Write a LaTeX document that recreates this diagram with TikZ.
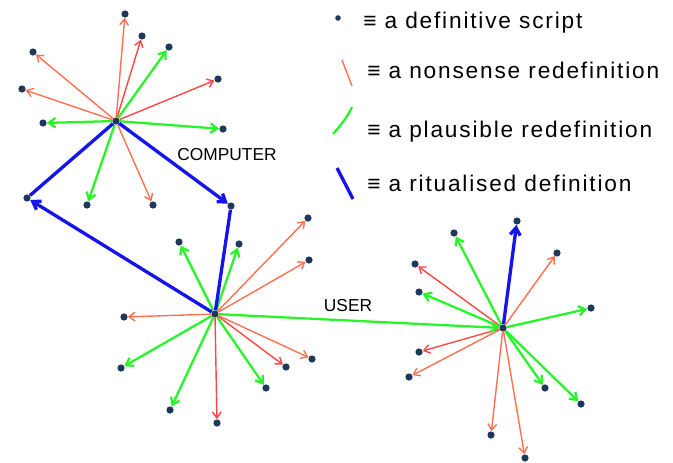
\documentclass[tikz,border=0pt]{standalone}
\usepackage{fontspec}
\setmainfont{Liberation Sans}
\newfontfamily\legfont[LetterSpace=8]{Liberation Sans}
\usetikzlibrary{arrows.meta}
\definecolor{dotc}{RGB}{30,55,90}
\definecolor{orangec}{RGB}{255,112,80}
\definecolor{redc}{RGB}{255,70,70}
\definecolor{greenc}{RGB}{40,245,40}
\definecolor{bluec}{RGB}{20,20,235}
\tikzset{
  dot/.style={circle,fill=dotc,draw=none,inner sep=0pt,minimum size=5.4pt},
  tipx/.style={-{Straight Barb[length=4.5pt,width=6.5pt]}},
  nons/.style={tipx,draw=orangec,line width=1.05pt},
  nonsr/.style={tipx,draw=redc,line width=1.05pt},
  plaus/.style={-{Straight Barb[length=5pt,width=7pt]},draw=greenc,line width=1.7pt},
  ritual/.style={draw=bluec,line width=2.5pt},
  ritualarr/.style={ritual,-{Straight Barb[length=5.5pt,width=7.5pt]}},
  lbl/.style={font=\fontsize{13}{15}\selectfont,inner sep=0pt},
  legtext/.style={font=\legfont\fontsize{17}{20}\selectfont,anchor=base west,inner sep=0pt}
}
\begin{document}
\begin{tikzpicture}[x=0.75pt,y=-0.75pt]
\useasboundingbox (0,0) rectangle (673,462);
% cluster 1 (computer)
\node[dot] (c1) at (116,121) {};
\node[dot] (a1) at (125,14) {};
\node[dot] (a2) at (142,36) {};
\node[dot] (a3) at (169,47) {};
\node[dot] (a4) at (218,79) {};
\node[dot] (a5) at (223,129) {};
\node[dot] (a6) at (43,123) {};
\node[dot] (a7) at (22,89) {};
\node[dot] (a8) at (33,52) {};
\node[dot] (a9) at (87,205) {};
\node[dot] (a10) at (153,205) {};
\node[dot] (p1) at (27,198) {};
\node[dot] (p2) at (231,206) {};
% cluster 2 (user)
\node[dot] (c2) at (215,314) {};
\node[dot] (b1) at (179,242) {};
\node[dot] (b2) at (239,244) {};
\node[dot] (b3) at (308,218) {};
\node[dot] (b4) at (309,260) {};
\node[dot] (b5) at (124,317) {};
\node[dot] (b6) at (121,368) {};
\node[dot] (b7) at (170,410) {};
\node[dot] (b8) at (217,423) {};
\node[dot] (b9) at (266,388) {};
\node[dot] (b10) at (286,367) {};
\node[dot] (b11) at (312,359) {};
% cluster 3
\node[dot] (c3) at (503,328) {};
\node[dot] (e1) at (517,221) {};
\node[dot] (e2) at (454,233) {};
\node[dot] (e3) at (557,253) {};
\node[dot] (e4) at (415,264) {};
\node[dot] (e5) at (419,292) {};
\node[dot] (e6) at (591,308) {};
\node[dot] (e7) at (419,352) {};
\node[dot] (e8) at (409,377) {};
\node[dot] (e9) at (545,388) {};
\node[dot] (e10) at (581,404) {};
\node[dot] (e11) at (491,435) {};
\node[dot] (e12) at (525,458) {};
% cluster 1 arrows
\draw[nons] (c1) -- (a1);
\draw[nonsr] (c1) -- (a2);
\draw[plaus] (c1) -- (a3);
\draw[nonsr] (c1) -- (a4);
\draw[plaus] (c1) -- (a5);
\draw[plaus] (c1) -- (a6);
\draw[nons] (c1) -- (a7);
\draw[nons] (c1) -- (a8);
\draw[plaus] (c1) -- (a9);
\draw[nons] (c1) -- (a10);
% cluster 2 arrows
\draw[plaus] (c2) -- (b1);
\draw[plaus] (c2) -- (b2);
\draw[nons] (c2) -- (b3);
\draw[nons] (c2) -- (b4);
\draw[nons] (c2) -- (b5);
\draw[plaus] (c2) -- (b6);
\draw[plaus] (c2) -- (b7);
\draw[nonsr] (c2) -- (b8);
\draw[plaus] (c2) -- (b9);
\draw[nonsr] (c2) -- (b10);
\draw[nons] (c2) -- (b11);
% cluster 3 arrows
\draw[plaus] (c3) -- (e2);
\draw[nons] (c3) -- (e3);
\draw[nonsr] (c3) -- (e4);
\draw[plaus] (c3) -- (e5);
\draw[plaus] (c3) -- (e6);
\draw[nonsr] (c3) -- (e7);
\draw[nons] (c3) -- (e8);
\draw[plaus] (c3) -- (e9);
\draw[plaus] (c3) -- (e10);
\draw[nons] (c3) -- (e11);
\draw[nons] (c3) -- (e12);
\draw[plaus] (c2) -- (c3);
% ritualised
\draw[ritual] (c1) -- (p1);
\draw[ritualarr] (c2) -- (p1);
\draw[ritualarr] (c1) -- (p2);
\draw[ritual] (p2) -- (c2);
\draw[ritualarr] (c3) -- (e1);
% labels
\node[lbl] (comp) at (227,155) {COMPUTER};
\node[lbl] (user) at (348,306) {USER};
% legend
\node[dot,minimum size=4.2pt] (ld) at (338,18) {};
\coordinate (lo1) at (342,60); \coordinate (lo2) at (352,86);
\coordinate (lg1) at (333,134); \coordinate (lg2) at (352,107);
\coordinate (lb1) at (337,168); \coordinate (lb2) at (353,199);
\draw[draw=orangec,line width=1.05pt] (lo1) -- (lo2);
\draw[draw=greenc,line width=1.7pt] (lg1) .. controls (340,126) and (347,118) .. (lg2);
\draw[ritual] (lb1) -- (lb2);
\node[legtext] (t1) at (363,28) {≡ a definitive script};
\node[legtext] (t2) at (367,78) {≡ a nonsense redefinition};
\node[legtext] (t3) at (367,137) {≡ a plausible redefinition};
\node[legtext] (t4) at (367,191) {≡ a ritualised definition};
\end{tikzpicture}
\end{document}
